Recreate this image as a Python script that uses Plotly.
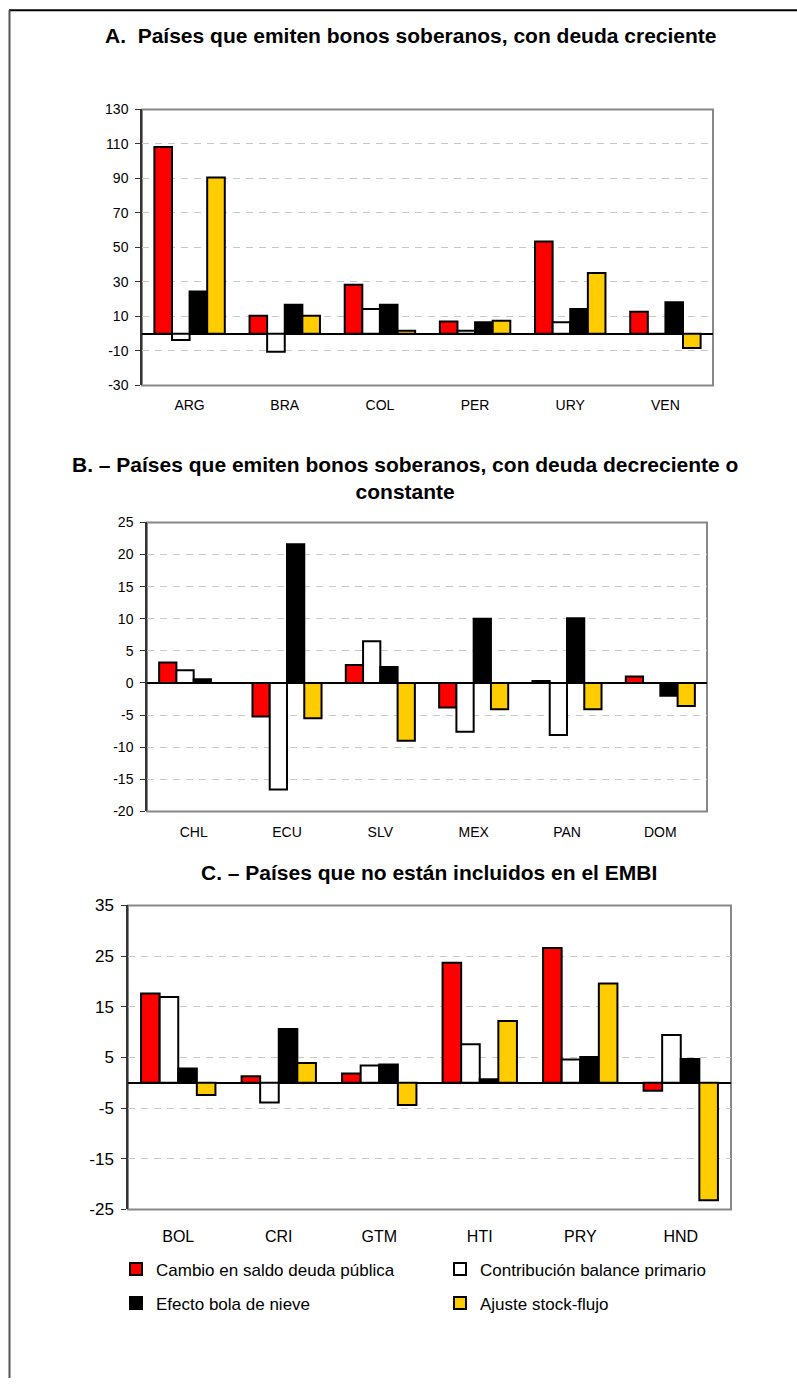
import plotly.graph_objects as go

W, H = 797, 1388
FONT = "Liberation Sans, Arial, sans-serif"
# measured vertical mapping of the photographed page (rendered = VA + VB * page_y)
VA, VB = 8.5, 0.9864

series_names = ["Cambio en saldo deuda pública", "Contribución balance primario",
                "Efecto bola de nieve", "Ajuste stock-flujo"]
series_colors = ["#FF0000", "#FFFFFF", "#000000", "#FFCC00"]

# Panel A
cats_a = ["ARG", "BRA", "COL", "PER", "URY", "VEN"]
cambio_a = [108.2, 10.4, 28.4, 7.1, 53.5, 12.8]
primario_a = [-3.7, -10.4, 14.3, 1.7, 6.6, 0.0]
nieve_a = [24.5, 16.8, 16.8, 6.6, 14.3, 18.2]
ajuste_a = [90.6, 10.4, 1.7, 7.5, 35.2, -8.3]
ticks_a = [-30, -10, 10, 30, 50, 70, 90, 110, 130]
ticklabels_a = ["-30", "-10", "10", "30", "50", "70", "90", "110", "130"]

# Panel B
cats_b = ["CHL", "ECU", "SLV", "MEX", "PAN", "DOM"]
cambio_b = [3.2, -5.2, 2.8, -3.8, 0.3, 1.0]
primario_b = [2.0, -16.6, 6.5, -7.6, -8.1, 0.0]
nieve_b = [0.6, 21.6, 2.5, 10.0, 10.1, -2.0]
ajuste_b = [0.0, -5.5, -9.0, -4.1, -4.1, -3.6]
ticks_b = [-20, -15, -10, -5, 0, 5, 10, 15, 20, 25]
ticklabels_b = ["-20", "-15", "-10", "-5", "0", "5", "10", "15", "20", "25"]

# Panel C
cats_c = ["BOL", "CRI", "GTM", "HTI", "PRY", "HND"]
cambio_c = [17.6, 1.3, 1.8, 23.7, 26.6, -1.6]
primario_c = [16.9, -3.9, 3.4, 7.6, 4.6, 9.4]
nieve_c = [2.8, 10.6, 3.6, 0.7, 5.1, 4.7]
ajuste_c = [-2.4, 3.9, -4.4, 12.2, 19.6, -23.2]
ticks_c = [-25, -15, -5, 5, 15, 25, 35]
ticklabels_c = ["-25", "-15", "-5", "5", "15", "25", "35"]

titles = ["A.  Países que emiten bonos soberanos, con deuda creciente",
          "B. – Países que emiten bonos soberanos, con deuda decreciente o<br>constante",
          "C. – Países que no están incluidos en el EMBI"]


def fx(px):
    return px / W


def fy(py):
    page_y = (py - VA) / VB
    return 1 - page_y / H


panels = [
    dict(cats=cats_a, vals=[cambio_a, primario_a, nieve_a, ajuste_a],
         rng=(-30, 130), tv=ticks_a, tt=ticklabels_a, px=(142, 713), py=(109, 385),
         tfont=14, xfont=14, xstand=10, title_xy=(411, 35)),
    dict(cats=cats_b, vals=[cambio_b, primario_b, nieve_b, ajuste_b],
         rng=(-20, 25), tv=ticks_b, tt=ticklabels_b, px=(147, 707), py=(522, 811),
         tfont=14, xfont=14, xstand=11, title_xy=(405, 478)),
    dict(cats=cats_c, vals=[cambio_c, primario_c, nieve_c, ajuste_c],
         rng=(-25, 35), tv=ticks_c, tt=ticklabels_c, px=(128, 731), py=(905, 1209),
         tfont=17, xfont=16, xstand=16, title_xy=(429, 872)),
]

fig = go.Figure()
layout = dict(width=W, height=H, margin=dict(l=0, r=0, t=0, b=0),
              paper_bgcolor="white", plot_bgcolor="white",
              barmode="group", bargap=0.26, bargroupgap=0,
              font=dict(family=FONT, color="black"),
              showlegend=True)
annotations = []
shapes = []

for i, p in enumerate(panels):
    n = i + 1
    xa = "x" if n == 1 else f"x{n}"
    ya = "y" if n == 1 else f"y{n}"
    for k in range(4):
        fig.add_trace(go.Bar(
            x=p["cats"], y=p["vals"][k], name=series_names[k],
            marker=dict(color=series_colors[k], line=dict(color="black", width=2)),
            xaxis=xa, yaxis=ya,
            showlegend=(n == 3),
            legend="legend" if k < 2 else "legend2",
        ))
    xd = [fx(p["px"][0]), fx(p["px"][1])]
    yd = [fy(p["py"][1]), fy(p["py"][0])]
    lo, hi = p["rng"]
    layout[f"xaxis{'' if n == 1 else n}"] = dict(
        domain=xd, anchor=ya, type="category", range=[-0.5, 5.5],
        showline=False, showgrid=False, zeroline=False, ticks="",
        tickfont=dict(size=p["xfont"], family=FONT, color="black"),
        ticklabelstandoff=p["xstand"], fixedrange=True)
    layout[f"yaxis{'' if n == 1 else n}"] = dict(
        domain=yd, anchor=xa, range=[lo, hi], tickvals=p["tv"], ticktext=p["tt"],
        showline=True, linecolor="#333333", linewidth=1.5,
        ticks="outside", ticklen=5, tickcolor="#333333", tickwidth=1,
        showgrid=True, gridcolor="#c8c8c8", gridwidth=1, griddash="7px,6px",
        zeroline=True, zerolinecolor="black", zerolinewidth=1.5,
        tickfont=dict(size=p["tfont"], family=FONT, color="black"),
        ticklabelstandoff=4, fixedrange=True)
    # boundary tick marks along zero line
    zpos = yd[0] + (0 - lo) / (hi - lo) * (yd[1] - yd[0])
    layout[f"xaxis{n + 3}"] = dict(
        domain=xd, overlaying=xa, anchor="free", position=zpos, type="linear",
        range=[-0.5, 5.5], tickvals=[0.5, 1.5, 2.5, 3.5, 4.5, 5.5],
        ticks="outside", ticklen=4, tickcolor="#333333", tickwidth=1,
        showticklabels=False, showgrid=False, zeroline=False, showline=False,
        fixedrange=True)
    # plot area frame (gray)
    shapes.append(dict(type="rect", xref=f"{xa} domain", yref=f"{ya} domain",
                       x0=0, x1=1, y0=0, y1=1, line=dict(color="#888888", width=2),
                       layer="below"))
    annotations.append(dict(text=f"<b>{titles[i]}</b>", xref="paper", yref="paper",
                            x=fx(p["title_xy"][0]), y=fy(p["title_xy"][1]),
                            xanchor="center", yanchor="middle", showarrow=False,
                            font=dict(size=21, family=FONT, color="black")))

# outer frame (top and left edges visible)
shapes.append(dict(type="line", xref="paper", yref="paper", x0=fx(9), x1=1,
                   y0=1 - 1.2 / H, y1=1 - 1.2 / H, line=dict(color="black", width=2)))
shapes.append(dict(type="line", xref="paper", yref="paper", x0=fx(9.5), x1=fx(9.5),
                   y0=0, y1=1 - 1.2 / H, line=dict(color="#555555", width=2)))

legend_common = dict(orientation="h", xanchor="left", yanchor="middle",
                     entrywidth=279, entrywidthmode="pixels",
                     font=dict(size=17, family=FONT, color="black"),
                     bgcolor="rgba(0,0,0,0)", itemwidth=30, traceorder="normal",
                     borderwidth=0)
layout["legend"] = dict(legend_common, x=fx(116), y=fy(1269))
layout["legend2"] = dict(legend_common, x=fx(116), y=fy(1303))
layout["annotations"] = annotations
layout["shapes"] = shapes

fig.update_layout(**layout)
fig.write_html(
    "out.html",
    config={"displayModeBar": False},
    post_script="document.body.style.margin='0';"
                "document.documentElement.style.overflow='hidden';",
)
